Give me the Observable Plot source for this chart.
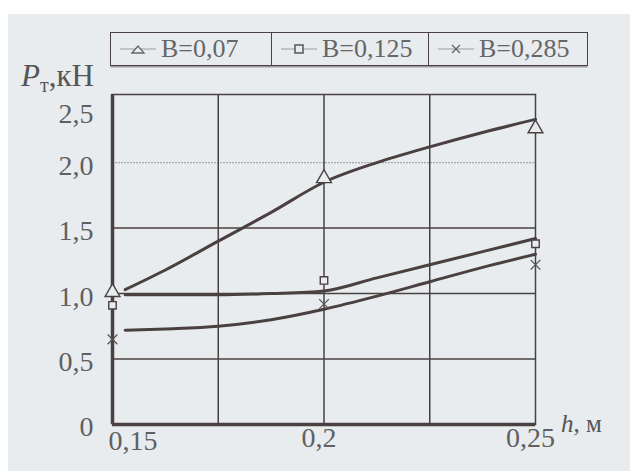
<!DOCTYPE html>
<html><head><meta charset="utf-8">
<script src="https://cdn.jsdelivr.net/npm/d3@7"></script>
<script src="https://cdn.jsdelivr.net/npm/@observablehq/plot@0.6"></script>
<style>
html,body{margin:0;padding:0;background:#fff;}
#page{position:relative;width:630px;height:471px;overflow:hidden;background:#fff;}
#scan{position:absolute;left:8px;top:14px;width:622px;height:457px;background:#e8ecef;}
#chart{position:absolute;left:0;top:0;}
.lbl{position:absolute;font-family:"Liberation Serif",serif;color:#555;white-space:nowrap;}
#legend{position:absolute;left:110px;top:32px;width:476px;height:32px;border:1.5px solid #4a4040;display:flex;box-shadow:0 2px 0 -0.5px #9a9a9a;}
.cell{height:32px;display:flex;align-items:center;font-family:"Liberation Serif",serif;font-size:26px;color:#666;box-sizing:border-box;}
.cell svg{margin-right:3px;}
</style></head>
<body>
<div id="page">
<div id="scan"></div>
<div id="chart"></div>
<div id="legend"></div>
<div class="lbl" style="left:21px;top:58px;font-size:31px;"><i>P</i><span style="font-size:20px;position:relative;top:6px;">т</span>,кН</div>
<div class="lbl" style="left:561px;top:410px;font-size:25px;"><i>h</i>, м</div>
</div>
<script>
// Data
const seriesNames = ["В=0,07", "В=0,125", "В=0,285"];
const markerH = [0.15, 0.2, 0.25];
const markTri = [1.01, 1.88, 2.26];
const markSq = [0.91, 1.10, 1.38];
const markX = [0.65, 0.92, 1.22];
const curveH = [0.153, 0.1625, 0.175, 0.1875, 0.2, 0.2125, 0.225, 0.2375, 0.25];
const curveTri = [1.03, 1.18, 1.40, 1.62, 1.85, 2.00, 2.12, 2.23, 2.33];
const curveSq = [0.99, 0.99, 0.99, 1.00, 1.02, 1.12, 1.22, 1.32, 1.42];
const curveX = [0.72, 0.73, 0.75, 0.80, 0.88, 0.98, 1.09, 1.20, 1.30];
const xTicks = [0.15, 0.2, 0.25];
const xTickLabels = ["0,15", "0,2", "0,25"];
const yTicks = [0, 0.5, 1.0, 1.5, 2.0, 2.5];
const yTickLabels = ["0", "0,5", "1,0", "1,5", "2,0", "2,5"];
const gridX = [0.175, 0.2, 0.225];
const gridYDark = [0.5, 1.0, 1.5];
const gridYLight = [2.0];

const ink = "#4a4040";
const bg = "#e8ecef";
const mk = (ys) => markerH.map((h, i) => ({h, v: ys[i]}));
const cv = (ys) => curveH.map((h, i) => ({h, v: ys[i]}));
const tickFill = "#606060";

const chart = Plot.plot({
  width: 630, height: 471,
  marginLeft: 112, marginRight: 95, marginTop: 94, marginBottom: 47,
  x: {domain: [0.15, 0.25], axis: null},
  y: {domain: [0, 2.52], axis: null},
  style: {background: "transparent", fontFamily: "Liberation Serif, serif", overflow: "visible"},
  marks: [
    Plot.ruleY(gridYLight, {stroke: "#a9a9a9", strokeWidth: 1.2, strokeDasharray: "2,1"}),
    Plot.ruleY(gridYDark, {stroke: ink, strokeWidth: 1.5}),
    Plot.ruleX(gridX, {stroke: ink, strokeWidth: 1.5}),
    Plot.frame({stroke: ink, strokeWidth: 1.5}),
    Plot.ruleX([0.15], {stroke: ink, strokeWidth: 3.5}),
    Plot.ruleY([0], {stroke: ink, strokeWidth: 3.5}),
    Plot.line(cv(curveTri), {x: "h", y: "v", stroke: ink, strokeWidth: 3, curve: "monotone-x"}),
    Plot.line(cv(curveSq), {x: "h", y: "v", stroke: ink, strokeWidth: 3, curve: "monotone-x"}),
    Plot.line(cv(curveX), {x: "h", y: "v", stroke: ink, strokeWidth: 3, curve: "monotone-x"}),
    Plot.dot(mk(markTri), {x: "h", y: "v", symbol: "triangle", r: 5.5, fill: bg, stroke: ink, strokeWidth: 1.4}),
    Plot.dot(mk(markSq), {x: "h", y: "v", symbol: "square", r: 4.2, fill: bg, stroke: ink, strokeWidth: 1.4}),
    Plot.dot(mk(markX), {x: "h", y: "v", symbol: "times", r: 4.5, stroke: "#5a5252", strokeWidth: 1.3}),
    Plot.text(yTicks.slice(0, 5), {y: d => d, text: (d, i) => yTickLabels[i], frameAnchor: "left", textAnchor: "end", dx: -19, dy: 3, fontSize: 28, fill: tickFill}),
    Plot.text(yTicks.slice(5), {y: d => d, text: (d, i) => yTickLabels[i + 5], frameAnchor: "left", textAnchor: "end", dx: -19, dy: 17, fontSize: 28, fill: tickFill}),
    Plot.text(xTicks.slice(0, 1), {x: d => d, text: () => xTickLabels[0], frameAnchor: "bottom", textAnchor: "start", dx: -4, dy: 25, fontSize: 28, fill: tickFill}),
    Plot.text(xTicks.slice(1), {x: d => d, text: (d, i) => xTickLabels[i + 1], frameAnchor: "bottom", textAnchor: "middle", dx: -5, dy: 22, fontSize: 28, fill: tickFill})
  ]
});
document.getElementById("chart").appendChild(chart);

// Legend
const symbols = ["tri", "sq", "x"];
const widths = [161, 157, 158];
const leg = document.getElementById("legend");
seriesNames.forEach((name, i) => {
  const cell = document.createElement("div");
  cell.className = "cell";
  cell.style.width = widths[i] + "px";
  cell.style.paddingLeft = "9px";
  if (i < 2) cell.style.borderRight = "1.5px solid " + ink;
  let sym = "";
  if (symbols[i] === "tri") sym = `<path d="M12,12 L18,5 L24,12 Z" fill="${bg}" stroke="#666" stroke-width="1.3"/>`;
  if (symbols[i] === "sq") sym = `<rect x="14" y="4" width="8" height="8" fill="${bg}" stroke="#555" stroke-width="1.5"/>`;
  if (symbols[i] === "x") sym = `<path d="M14,4 L22,12 M22,4 L14,12" stroke="#666" stroke-width="1.3"/>`;
  cell.innerHTML = `<svg width="38" height="16"><line x1="0" y1="8" x2="36" y2="8" stroke="#999" stroke-width="1.2"/>${sym}</svg><span>${name}</span>`;
  leg.appendChild(cell);
});
</script>
</body></html>
